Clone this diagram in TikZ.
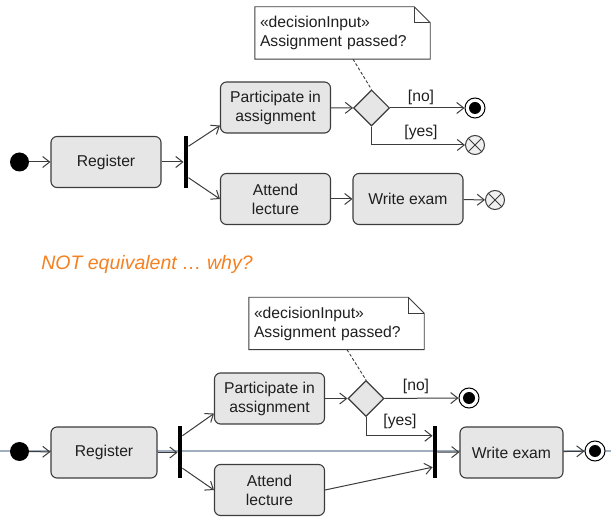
\documentclass[tikz,border=0pt]{standalone}
\usepackage{fontspec}
\setmainfont{Liberation Sans}
\usepackage{tikz}
\usetikzlibrary{calc}
\usetikzlibrary{arrows.meta}
\usetikzlibrary{shapes.geometric}
\usetikzlibrary{positioning}
\definecolor{boxgrey}{RGB}{230,230,230}
\definecolor{linegrey}{RGB}{60,60,60}
\definecolor{slideline}{RGB}{160,176,192}
\definecolor{hintorange}{RGB}{245,128,32}
\tikzset{action/.style={rectangle,rounded corners=6pt,draw=linegrey,fill=boxgrey,line width=1.1pt,minimum width=110pt,minimum height=51pt,align=center,inner sep=2pt}}
\tikzset{decision/.style={diamond,draw=linegrey,fill=boxgrey,line width=1.1pt,minimum size=36pt,inner sep=0pt}}
\tikzset{initial/.style={circle,fill=black,minimum size=19pt,inner sep=0pt}}
\tikzset{final/.style={circle,draw=black,fill=white,line width=1pt,minimum size=20pt,inner sep=0pt,path picture={\fill[black] (path picture bounding box.center) circle (6pt);}}}
\tikzset{flowend/.style={circle,draw=linegrey,fill=boxgrey!60,line width=1pt,minimum size=19pt,inner sep=0pt,path picture={\draw[linegrey,line width=1pt] (path picture bounding box.north west) -- (path picture bounding box.south east) (path picture bounding box.north east) -- (path picture bounding box.south west);}}}
\tikzset{bar/.style={rectangle,fill=black,minimum width=4.5pt,minimum height=52pt,inner sep=0pt}}
\tikzset{note/.style={rectangle,fill=white,minimum width=175pt,minimum height=52pt,text width=165pt,align=left,inner sep=5pt}}
\tikzset{noteline/.style={draw=linegrey,line width=0.9pt}}
\tikzset{flow/.style={draw=linegrey,line width=1pt,-{Straight Barb[length=7pt,width=11pt]}}}
\tikzset{guard/.style={inner sep=0pt}}

\begin{document}
\begin{tikzpicture}[x=1pt,y=-1pt,font=\fontsize{15.7}{19}\selectfont,text=black!88]
\useasboundingbox (0,0) rectangle (611,526);
% first diagram
  \node[initial] (S1) at (19.5,162) {};
  \node[action] (R1) at (106,162) {Register};
  \node[bar] (F1) at (186,162) {};
  \node[action] (P1) at (275.5,107.5) {Participate in\\assignment};
  \node[action] (L1) at (275.5,199) {Attend\\lecture};
  \node[action] (W1) at (408,199) {Write exam};
  \node[decision] (D1) at (371.5,108) {};
  \node[final] (E1) at (475,108) {};
  \node[flowend] (X1) at (475,145) {};
  \node[flowend] (X2) at (495,200) {};
  \node[guard] (no1) at (421,97) {[no]};
  \node[guard] (yes1) at (421,132) {[yes]};
  \node[note] (N1) at (342.5,33) {«decisionInput»\\Assignment passed?};
  \draw[noteline] (N1.south west) -- (N1.north west) -- ($(N1.north east)+(-16,0)$) -- ($(N1.north east)+(0,16)$) -- (N1.south east) -- cycle;
  \draw[noteline] ($(N1.north east)+(-16,0)$) -- ($(N1.north east)+(-16,16)$) -- ($(N1.north east)+(0,16)$);
  \draw[noteline,dash pattern=on 3pt off 2pt] ($(N1.south west)!0.56!(N1.south east)$) -- (D1.north);
  \draw[flow] (S1) -- (R1);
  \draw[flow] (R1) -- (F1);
  \draw[flow] ($(F1.north east)!0.2!(F1.south east)$) -- ($(P1.south west)+(0,-8)$);
  \draw[flow] ($(F1.north east)!0.8!(F1.south east)$) -- (L1.west);
  \draw[flow] (P1) -- (D1);
  \draw[flow] (D1) -- (E1);
  \draw[flow] (D1.south) |- (X1);
  \draw[flow] (L1) -- (W1);
  \draw[flow] (W1) -- (X2);

  \node[font=\fontsize{19.5}{23}\selectfont\itshape,text=hintorange] (why) at (147,264) {NOT equivalent … why?};

% second diagram
  \coordinate (G0) at (0,451);
  \coordinate (G1) at (611,451);
  \draw[slideline,line width=1.2pt] (G0) -- (G1);
  \node[initial] (S2) at (19.5,451.5) {};
  \node[action,minimum width=106pt] (R2) at (104,452.5) {Register};
  \node[bar] (F2) at (180,452.5) {};
  \node[action] (P2) at (269.5,398.5) {Participate in\\assignment};
  \node[action] (L2) at (269.5,490) {Attend\\lecture};
  \node[decision] (D2) at (366,398.5) {};
  \node[final] (E2) at (469,398) {};
  \node[bar] (J2) at (435,452) {};
  \node[action,minimum width=103pt] (W2) at (511.5,452.5) {Write exam};
  \node[final] (E3) at (595,451) {};
  \node[guard] (no2) at (416,386) {[no]};
  \node[guard] (yes2) at (400,421) {[yes]};
  \node[note] (N2) at (336.5,323.5) {«decisionInput»\\Assignment passed?};
  \draw[noteline] (N2.south west) -- (N2.north west) -- ($(N2.north east)+(-16,0)$) -- ($(N2.north east)+(0,16)$) -- (N2.south east) -- cycle;
  \draw[noteline] ($(N2.north east)+(-16,0)$) -- ($(N2.north east)+(-16,16)$) -- ($(N2.north east)+(0,16)$);
  \draw[noteline,dash pattern=on 3pt off 2pt] ($(N2.south west)!0.56!(N2.south east)$) -- (D2.north);
  \draw[flow] (S2) -- (R2);
  \draw[flow] (R2) -- (F2);
  \draw[flow] ($(F2.north east)!0.18!(F2.south east)$) -- ($(P2.south west)+(0,-11)$);
  \draw[flow] ($(F2.north east)!0.8!(F2.south east)$) -- (L2.west);
  \draw[flow] (P2) -- (D2);
  \draw[flow] (D2) -- (E2);
  \draw[flow] (D2.south) |- ($(J2.north west)!0.19!(J2.south west)$);
  \draw[flow] (L2.east) -- ($(J2.north west)!0.79!(J2.south west)$);
  \draw[flow] (J2) -- (W2);
  \draw[flow] (W2) -- (E3);
\end{tikzpicture}
\end{document}
